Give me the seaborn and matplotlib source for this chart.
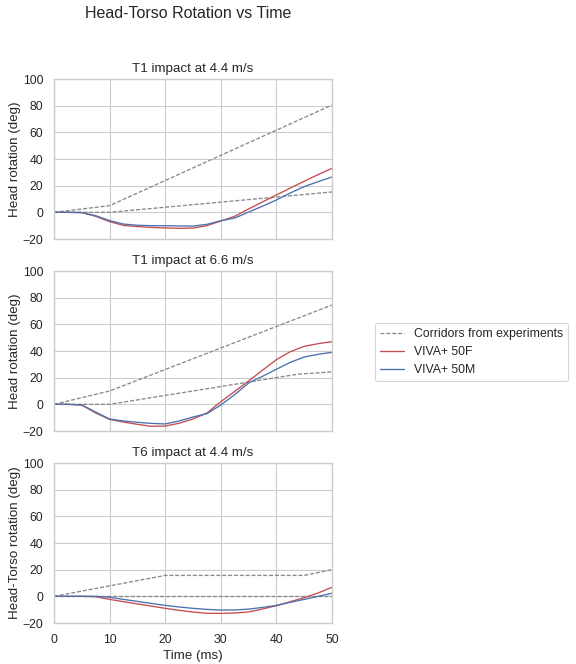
import numpy as np
import pandas as pd
import matplotlib
matplotlib.use("Agg")
import matplotlib.pyplot as plt
import seaborn as sns
from matplotlib.lines import Line2D

# ---------------- data ----------------
time_ms = [0, 2.5, 5, 7.5, 10, 12.5, 15, 17.5, 20, 22.5, 25, 27.5, 30,
           32.5, 35, 37.5, 40, 42.5, 45, 47.5, 50]

panel_titles = ["T1 impact at 4.4 m/s", "T1 impact at 6.6 m/s", "T6 impact at 4.4 m/s"]
panel_ylabels = ["Head rotation (deg)", "Head rotation (deg)", "Head-Torso rotation (deg)"]

# Panel 1: T1 impact at 4.4 m/s
p1_f50 = [0, 0, -0.2, -3, -7, -9.8, -10.7, -11.3, -11.7, -12, -11.8, -10, -6.5,
          -3, 2.5, 7.8, 13, 18.2, 23.3, 28.3, 33]
p1_m50 = [0, 0, -0.2, -2.5, -6.2, -8.8, -9.7, -10, -10, -10.2, -10.3, -9, -6.3,
          -4.3, 0.2, 4.6, 9.3, 14.5, 19.3, 23, 26.5]
p1_corr_upper_t = [0, 10, 50]
p1_corr_upper = [0, 5, 80.5]
p1_corr_lower_t = [0, 10, 50]
p1_corr_lower = [0, 0, 15.3]

# Panel 2: T1 impact at 6.6 m/s
p2_f50 = [0, 0, -0.5, -6.5, -11.3, -13.3, -15, -16.5, -16.3, -14.2, -11, -6.5, 2,
          9.7, 17.5, 25.6, 33.5, 39.5, 43.5, 45.5, 47]
p2_m50 = [0, 0, -0.5, -5.8, -11, -12.5, -13.5, -14.3, -14.7, -12.5, -9.5, -7, -0.5,
          7.3, 16, 21, 26.3, 31.5, 35.5, 37.5, 39]
p2_corr_upper_t = [0, 10, 50]
p2_corr_upper = [0, 10, 74.5]
p2_corr_lower_t = [0, 10, 44, 50]
p2_corr_lower = [0, 0, 22.7, 24.3]

# Panel 3: T6 impact at 4.4 m/s
p3_f50 = [0, 0, 0, -0.3, -2.3, -4, -5.7, -7.3, -9, -10.5, -11.8, -12.7, -12.8,
          -12.5, -11.7, -9.5, -7, -4, -1, 2.5, 6.8]
p3_m50 = [0, 0, 0, 0, -0.7, -2.3, -3.8, -5.3, -6.8, -8, -9, -9.8, -10.3,
          -10.2, -9.6, -8.3, -6.8, -4.5, -2.3, 0, 2.3]
p3_corr_upper_t = [0, 20, 45, 50]
p3_corr_upper = [0, 15.7, 15.7, 20]
p3_corr_lower_t = [0, 50]
p3_corr_lower = [0, 0]

panels = [
    (p1_f50, p1_m50, (p1_corr_upper_t, p1_corr_upper), (p1_corr_lower_t, p1_corr_lower)),
    (p2_f50, p2_m50, (p2_corr_upper_t, p2_corr_upper), (p2_corr_lower_t, p2_corr_lower)),
    (p3_f50, p3_m50, (p3_corr_upper_t, p3_corr_upper), (p3_corr_lower_t, p3_corr_lower)),
]

legend_labels = ["Corridors from experiments", "VIVA+ 50F", "VIVA+ 50M"]
x_ticks = [0, 10, 20, 30, 40, 50]
y_ticks = [-20, 0, 20, 40, 60, 80, 100]

# ---------------- style ----------------
sns.set_theme(style="whitegrid", context="notebook")
plt.rcParams['font.family'] = ['Liberation Sans', 'DejaVu Sans']

red = "#C44E52"
blue = "#4C72B0"
grey = "#8a8a8a"
corr_dashes = (3.0, 1.4)

DPI = 80
fig, axes = plt.subplots(3, 1, figsize=(576 / DPI, 664 / DPI), dpi=DPI, sharex=True)
fig.subplots_adjust(left=54 / 576, right=332 / 576, top=1 - 79 / 664,
                    bottom=1 - 623 / 664, hspace=32 / 160)

for ax, (f50, m50, cu, cl), title, ylab in zip(axes, panels, panel_titles, panel_ylabels):
    sns.lineplot(x=cu[0], y=cu[1], ax=ax, color=grey, linewidth=1.2, dashes=False)
    ax.lines[-1].set_dashes(corr_dashes)
    sns.lineplot(x=cl[0], y=cl[1], ax=ax, color=grey, linewidth=1.2)
    ax.lines[-1].set_dashes(corr_dashes)
    sns.lineplot(x=time_ms, y=f50, ax=ax, color=red, linewidth=1.2)
    sns.lineplot(x=time_ms, y=m50, ax=ax, color=blue, linewidth=1.2)
    ax.set_title(title, fontsize=12)
    ax.set_ylabel(ylab, fontsize=12, labelpad=1.5)
    ax.set_xlim(0, 50)
    ax.set_ylim(-20, 100)
    ax.set_xticks(x_ticks)
    ax.set_yticks(y_ticks)
    ax.tick_params(labelsize=11)

axes[-1].set_xlabel("Time (ms)", fontsize=12)

handles = [Line2D([], [], color=grey, linewidth=1.2, dashes=corr_dashes),
           Line2D([], [], color=red, linewidth=1.2),
           Line2D([], [], color=blue, linewidth=1.2)]
fig.legend(handles, legend_labels, loc="center left",
           bbox_to_anchor=(375 / 576, 1 - 352 / 664), borderaxespad=0, fontsize=11)

fig.suptitle("Head-Torso Rotation vs Time", x=188 / 576, y=1 - 14 / 664,
             va="center", fontsize=14.4)

fig.savefig("out.png", dpi=DPI)
